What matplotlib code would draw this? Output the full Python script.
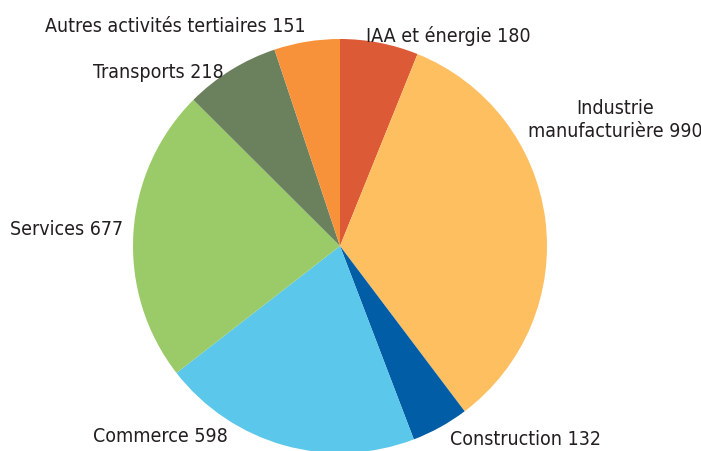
import matplotlib.pyplot as plt
from matplotlib import font_manager

labels = ["IAA et énergie 180", "Industrie\nmanufacturière 990", "Construction 132",
          "Commerce 598", "Services 677", "Transports 218",
          "Autres activités tertiaires 151"]
values = [180, 990, 132, 598, 677, 218, 151]
colors = ["#DC5A36", "#FDBF60", "#005DA6", "#5BC7EA", "#9ACB68", "#6B805C", "#F7923A"]

# label anchor positions in pixels (x, y from top), alignment
label_pos = [(366, 36, "left"), (615, 120, "center"), (450, 440, "left"),
             (93, 437, "left"), (10, 230, "left"), (93, 73, "left"),
             (45, 27, "left")]

W, H = 701, 452
names = sorted({f.name for f in font_manager.fontManager.ttflist})
print(names)
print([(f.name, f.stretch) for f in font_manager.fontManager.ttflist if 'ondens' in f.fname or 'arrow' in f.fname])

fig = plt.figure(figsize=(W / 100, H / 100), dpi=100)
cx, cy, r = 340, 247, 207
ax = fig.add_axes([(cx - r) / W, (H - cy - r) / H, 2 * r / W, 2 * r / H])
ax.pie(values, colors=colors, startangle=90, counterclock=False,
       wedgeprops=dict(linewidth=0))
ax.set_xlim(-1, 1)
ax.set_ylim(-1, 1)
ax.set_aspect('equal')
ax.axis('off')

for lab, (x, y, ha) in zip(labels, label_pos):
    fig.text(x / W, 1 - y / H, lab, ha=ha, va='center', fontsize=14,
             family='DejaVu Sans', stretch='condensed',
             color="#231F20", linespacing=1.3)

fig.savefig("out.png", dpi=100)
